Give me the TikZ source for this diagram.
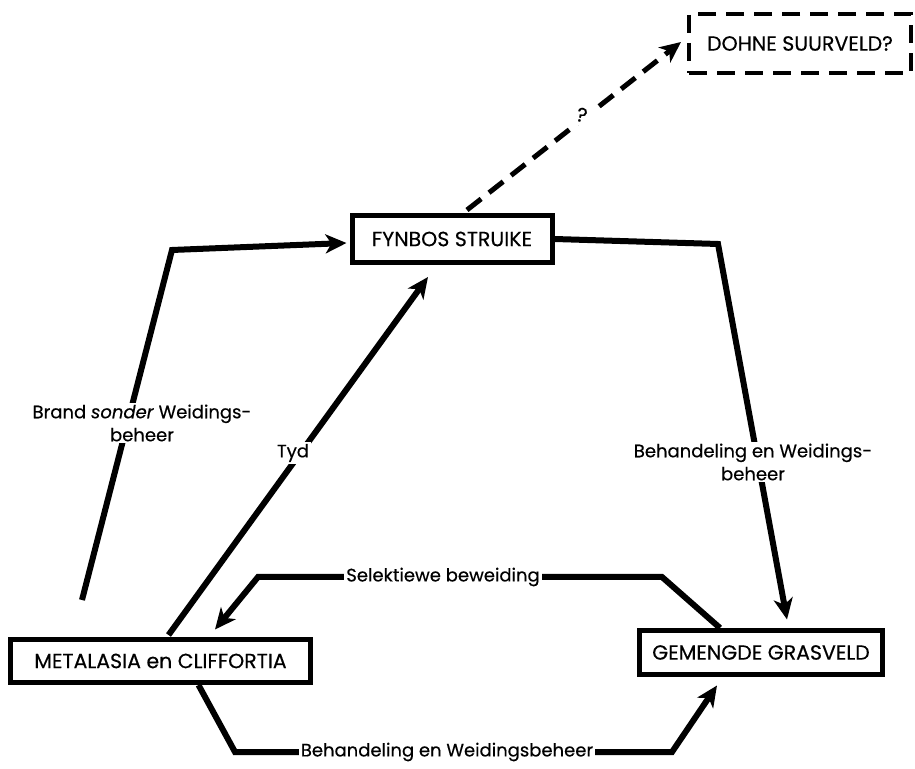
\documentclass[tikz,border=0pt]{standalone}
\usepackage{fontspec}
\setmainfont{Poppins}[FakeBold=0.4]
\usetikzlibrary{arrows.meta,calc}
\begin{document}
\begin{tikzpicture}[x=1pt,y=1pt,
  box/.style={draw, line width=5pt, inner sep=0pt, font=\fontsize{20.5}{24}\selectfont},
  dbox/.style={draw, line width=4pt, dash pattern=on 18pt off 10pt, inner sep=0pt, font=\fontsize{20.5}{24}\selectfont},
  arr/.style={line width=6pt, -{Stealth[length=21pt,width=19pt,inset=6pt]}},
  dasharr/.style={line width=5pt, dash pattern=on 18pt off 10pt, -{Stealth[length=21pt,width=19pt,inset=6pt]}},
  lab/.style={fill=white, inner sep=2pt, align=center, font=\fontsize{18}{23}\selectfont}]
\useasboundingbox (0,0) rectangle (915,768);
\fill[white] (0,0) rectangle (915,768);
% boxes
\node[box, minimum width=200, minimum height=47] (fyn) at (452,529) {FYNBOS STRUIKE};
\node[dbox, minimum width=222, minimum height=59] (dohne) at (800,724.5) {DOHNE SUURVELD?};
\node[box, minimum width=300, minimum height=43] (meta) at (160.5,107) {METALASIA en CLIFFORTIA};
\node[box, minimum width=243, minimum height=44] (gem) at (761,115.5) {GEMENGDE GRASVELD};
% connectors
\coordinate (c1s) at (82,168);
\coordinate (c1b) at (172,518);
\draw[arr] (c1s) -- (c1b) -- ($(fyn.west)+(-3,-4)$);
\draw[arr] ($(meta.north)+(8,2)$) -- ($(fyn.south)+(-24,-12)$);
\coordinate (c3b) at (718,524);
\draw[arr] (fyn.east) -- (c3b) -- ($(gem.north)+(26,8.5)$);
\coordinate (c4a) at (662,191);
\coordinate (c4b) at (258,191);
\draw[arr] ($(gem.north)+(-41,0)$) -- (c4a) -- (c4b) -- ($(meta.north)+(54.5,7.5)$);
\coordinate (c5a) at (235,16);
\coordinate (c5b) at (672,16);
\draw[arr] ($(meta.south)+(38,0)$) -- (c5a) -- (c5b) -- ($(gem.south)+(-44,-8.5)$);
\draw[dasharr] ($(fyn.north)+(15,3)$) -- ($(dohne.west)+(-6,1.5)$);
\node[fill=white, inner sep=4pt, minimum width=22, minimum height=22, rotate=-12, font=\fontsize{20}{22}\selectfont] (q) at (582,653) {?};
% labels
\node[lab] (l1) at (142,345) {Brand \textit{sonder} Weidings-\\beheer};
\node[lab] (l2) at (293,315) {Tyd};
\node[lab] (l3) at (753,306) {Behandeling en Weidings-\\beheer};
\node[lab] (l4) at (443,191) {Selektiewe beweiding};
\node[lab] (l5) at (447,16) {Behandeling en Weidingsbeheer};
\end{tikzpicture}
\end{document}
